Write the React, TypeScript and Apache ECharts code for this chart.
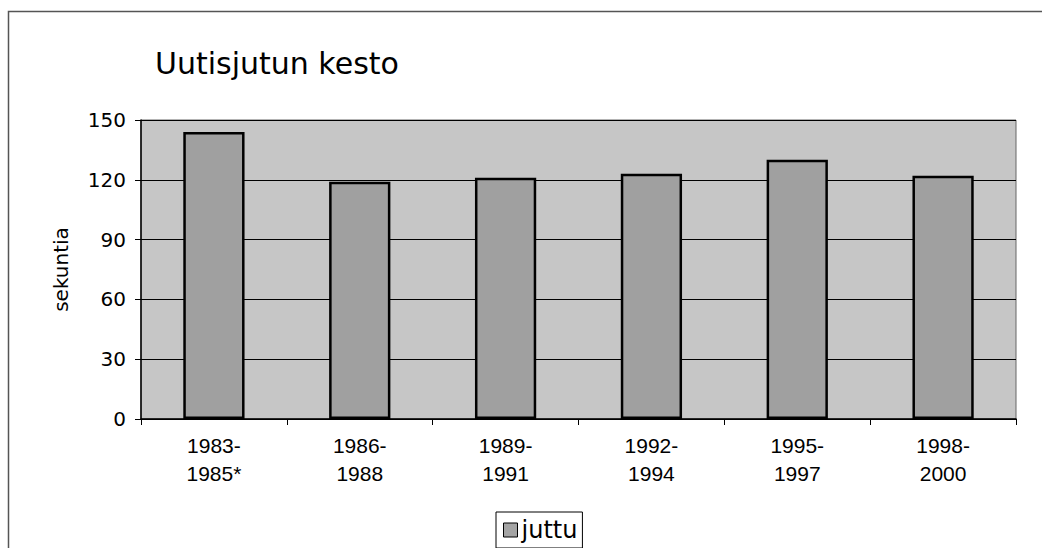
import React, { useEffect, useRef } from "react";
import * as echarts from "echarts";

const categories = ["1983-\n1985*", "1986-\n1988", "1989-\n1991", "1992-\n1994", "1995-\n1997", "1998-\n2000"];
const values = [144, 119, 121, 123, 130, 122];
const seriesName = "juttu";
const titleText = "Uutisjutun kesto";
const yAxisName = "sekuntia";

export default function App() {
  const ref = useRef<HTMLDivElement>(null);
  useEffect(() => {
    if (!ref.current) return;
    document.body.style.margin = "0";
    document.body.style.overflow = "hidden";
    const chart = echarts.init(ref.current, null, { renderer: "svg" });
    chart.setOption({
      animation: false,
      backgroundColor: "#ffffff",
      title: {
        text: titleText,
        left: 150,
        top: 43,
        textStyle: { fontFamily: "DejaVu Sans", fontSize: 30, fontWeight: "normal", color: "#000" },
      },
      graphic: [
        {
          type: "rect",
          shape: { x: 8.5, y: 11.5, width: 1050, height: 560 },
          style: { fill: "none", stroke: "#555", lineWidth: 1.5 },
          silent: true,
        },
      ],
      legend: {
        data: [seriesName],
        left: 496,
        top: 512,
        itemWidth: 14,
        itemHeight: 14,
        padding: [6, 5, 6, 7],
        borderColor: "#000",
        borderWidth: 1,
        borderRadius: 0,
        icon: "rect",
        itemStyle: { color: "#a4a4a4", borderColor: "#000", borderWidth: 1 },
        textStyle: { fontFamily: "DejaVu Sans", fontSize: 24, color: "#000", padding: [0, 0, 0, -1] },
      },
      grid: {
        left: 141,
        right: 26,
        top: 120,
        bottom: 129,
        show: true,
        backgroundColor: "#c6c6c6",
        borderColor: "#666",
        borderWidth: 1,
      },
      xAxis: {
        type: "category",
        data: categories,
        axisLine: { lineStyle: { color: "#000", width: 1.5 } },
        axisTick: { show: true, alignWithLabel: false, length: 6, lineStyle: { color: "#000" } },
        axisLabel: {
          margin: 12,
          fontFamily: "Liberation Sans",
          fontSize: 21,
          lineHeight: 28,
          color: "#000",
        },
      },
      yAxis: {
        type: "value",
        min: 0,
        max: 150,
        interval: 30,
        name: yAxisName,
        nameLocation: "middle",
        nameRotate: 90,
        nameGap: 70,
        nameTextStyle: { fontFamily: "DejaVu Sans", fontSize: 20, color: "#000" },
        axisLine: { show: true, lineStyle: { color: "#000", width: 1.5 } },
        axisTick: { show: true, length: 6, lineStyle: { color: "#000" } },
        axisLabel: { margin: 15, fontFamily: "DejaVu Sans", fontSize: 20, color: "#000" },
        splitLine: { show: true, lineStyle: { color: "#000", width: 1 } },
      },
      series: [
        {
          name: seriesName,
          type: "bar",
          data: values,
          barWidth: "42%",
          itemStyle: { color: "#a0a0a0", borderColor: "#000", borderWidth: 2.5 },
        },
      ],
    });
    return () => chart.dispose();
  }, []);
  return <div ref={ref} style={{ width: 1042, height: 548 }} />;
}
